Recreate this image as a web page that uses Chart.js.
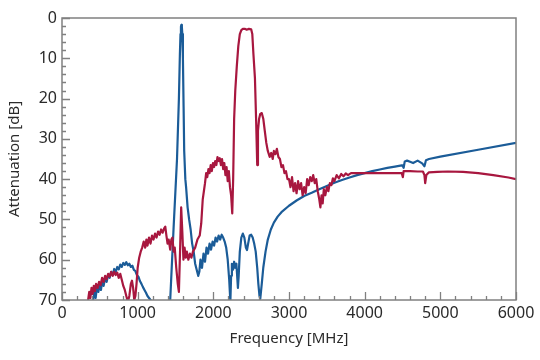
<!DOCTYPE html>
<html>
<head>
<meta charset="utf-8">
<script src="https://cdn.jsdelivr.net/npm/chart.js@4.4.1/dist/chart.umd.min.js"></script>
<style>
html,body{margin:0;padding:0;background:#fff;}
canvas{display:block;}
</style>
</head>
<body>
<canvas id="c" width="540" height="360"></canvas>
<script>
// ---- data (frequency in MHz, attenuation in dB) ----
const xTickValues = [0, 1000, 2000, 3000, 4000, 5000, 6000];
const yTickValues = [0, 10, 20, 30, 40, 50, 60, 70];

const blueFreq = [410,430,445,460,480,500,515,530,550,570,590,610,630,650,670,690,710,730,750,770,790,810,830,850,870,890,910,930,950,970,990,1010,1030,1050,1070,1090,1110,1130,1150,1170,1190,1260,1400,
1430,1475,1520,1545,1558,1566,1572,1578,1584,1590,1598,1607,1615,1630,1640,1660,1680,1700,1720,1740,1760,1780,1800,1815,1830,1850,1870,1890,1910,1930,1950,1970,1990,2010,2030,2050,2070,2090,2110,2130,2150,2170,2190,2210,2225,
2235,2245,2260,2275,2290,2305,2315,2325,2335,2350,2370,2390,2410,2430,2445,2460,2480,2500,2520,2540,2560,2580,2595,2610,2620,
2640,2660,2690,2720,2760,2800,2850,2900,3000,3100,3200,3300,3400,3500,3600,3700,3800,3900,4000,4100,4200,4300,4400,4490,
4500,4515,4530,4560,4600,4640,4700,4760,4790,4810,4850,5000,5500,6000];
const blueDb = [70,68,69.5,67,68,66,67.5,65.5,66.5,64.5,65.5,63.8,64.5,63,63.8,62.3,63,61.8,62.4,61.2,61.8,60.8,61.3,60.6,61.4,61,61.8,61.5,62.5,62.8,63.8,64.2,65.3,66,66.8,67.5,68.2,69,69.5,70,70.5,75,75,
70,52,35,20,9,4,2.2,1.7,2.2,4,10,22,33,40,42,47,50,52.5,56,58,61,62.5,64,63,60,62,58.5,60.5,57,58.5,56,57.5,55.5,56.5,54.5,55.5,54,55,53.8,54.5,55.5,57,60,65,70.5,
64,61,62.5,60.5,62,61,64,67,64,58,54.5,53.5,54.5,57,57.6,56,54,53.8,54.5,56,58,62,66,69,69.7,
66,62,58,55,52.5,50.8,49.3,48.2,46.6,45.3,44.2,43.4,42.5,41.7,40.9,40.2,39.6,39.0,38.5,38.0,37.6,37.2,36.9,36.6,
36.6,37.2,35.6,35.4,35.7,36.0,35.4,36.1,36.8,35.3,35.0,34.4,32.7,31.0];

const redFreq = [345,360,375,390,405,420,435,450,470,490,510,530,550,570,590,610,630,650,670,690,710,730,750,770,790,810,830,850,870,890,910,925,940,955,970,985,1000,1020,1040,1060,1080,1100,1115,1130,1150,1170,1190,1210,1230,1250,1270,1290,1310,1330,1350,1365,1380,1395,1410,1430,1445,1460,1475,1490,1510,1530,1545,1560,1575,1590,1605,1620,1635,1650,1670,1690,1710,1730,1760,1790,1820,1840,1860,1875,1890,1905,1920,1935,1950,1965,1980,1995,2010,2025,2040,2055,2070,2085,2100,2115,2130,2145,2160,2175,2190,2205,2220,2235,2250,
2262,2275,2290,2310,2330,2350,2370,2390,2420,2440,2470,2500,2515,2530,2550,2565,2580,2590,2605,2620,2640,2660,2680,2700,2720,2745,2765,2785,2800,2820,2840,2860,2880,2900,2920,2940,2960,2980,
3000,3020,3040,3060,3080,3100,3120,3140,3160,3180,3200,3220,3240,3260,3280,3300,3320,3340,3360,3380,3400,3415,3430,3445,3460,3480,3500,3520,3540,3560,3580,3600,3630,3660,3690,3720,3750,3780,3820,3900,4000,4200,4400,4490,4505,4515,4600,4700,4770,4790,4800,4815,4850,4960,5100,5300,5500,5700,5900,6000];
const redDb = [70,68,69.5,67,68.5,66.5,67.8,66,67,65.5,66.3,64.5,65.5,64,64.8,63.5,64.2,63,64,63,63.8,63.2,64.5,63.5,65,66.5,67.5,69,70.5,69,66,65.2,67,70,69,66,62,59.5,58,57,55.5,57,55,56.5,54.5,56,54,55,53.5,54.5,53,53.8,52.5,53.3,52.2,51.8,54,56,55,57.5,55,54.5,58,57,62,66,68,58,47,53,60,57,59.5,58,60,58.5,59.5,58,57,55,54,51,45,43,41,38.5,39.5,37.5,38.5,36.5,38,36,37,35.5,36.5,34.5,35.5,34.8,36.5,35,37.5,36,39,37,40.5,38,42,44,48.5,
40,25,18,12,7,4,3,2.7,2.7,2.9,2.7,2.8,4,9,15,25,36.5,28,25,23.8,23.6,25,28,31,33,34.5,33.5,35,33,33.8,32.5,34.5,35,37,36.5,38.5,38,40,
40,42,39.5,43,41,43.5,40.5,42.5,41,44,42,43.5,40,41.5,39.5,40.5,39,41,40,43,45,47,44,46,42.5,44,42,43,41,41.5,39.8,40.5,39,39.8,38.7,39.3,38.6,39,38.5,38.5,38.5,38.5,38.5,38.5,39.5,38,38,38.1,38.1,39,41,39,38.3,38.2,38.1,38.2,38.5,39,39.6,40];

const blueColor = '#1b5c98';
const redColor = '#a8173f';

function pts(xs, ys) { return xs.map((f, i) => ({ x: f, y: ys[i] })); }

const frameTicks = {
  id: 'frameTicks',
  afterDatasetsDraw(chart) {
    const { ctx, chartArea: { left, right, top, bottom }, scales: { x, y } } = chart;
    ctx.save();
    ctx.strokeStyle = '#808080';
    ctx.lineWidth = 1.3;
    ctx.beginPath();
    for (let v = x.min; v <= x.max; v += 200) {
      const px = Math.round(x.getPixelForValue(v)) + 0.5;
      const len = (v % 1000 === 0) ? 8 : 4;
      ctx.moveTo(px, bottom); ctx.lineTo(px, bottom - len);
    }
    for (let v = y.min; v <= y.max; v += 2) {
      const py = Math.round(y.getPixelForValue(v)) + 0.5;
      const len = (v % 10 === 0) ? 8 : 4;
      ctx.moveTo(left, py); ctx.lineTo(left + len, py);
    }
    ctx.stroke();
    ctx.lineWidth = 1.5;
    ctx.strokeRect(left, top, right - left, bottom - top);
    ctx.restore();
  }
};

const tickFont = { family: '"Noto Sans", "DejaVu Sans", sans-serif', size: 16 };
const titleFont = { family: '"Noto Sans", "DejaVu Sans", sans-serif', size: 15 };

new Chart(document.getElementById('c'), {
  type: 'line',
  data: {
    datasets: [
      { label: 'red', data: pts(redFreq, redDb), borderColor: redColor, borderWidth: 2.2, borderJoinStyle: 'round', pointRadius: 0, tension: 0, fill: false, clip: 0 },
      { label: 'blue', data: pts(blueFreq, blueDb), borderColor: blueColor, borderWidth: 2.2, borderJoinStyle: 'round', pointRadius: 0, tension: 0, fill: false, clip: 0 }
    ]
  },
  options: {
    responsive: false,
    animation: false,
    layout: { padding: { top: 18, right: 24, left: 0, bottom: 0 } },
    plugins: { legend: { display: false }, tooltip: { enabled: false } },
    scales: {
      x: {
        type: 'linear', min: 0, max: 6000,
        afterFit(s) { s.height = 60; },
        afterBuildTicks(s) { s.ticks = xTickValues.map(v => ({ value: v })); },
        grid: { display: false, drawTicks: false },
        border: { display: false },
        ticks: { color: '#2a2a2a', font: tickFont, padding: 4, maxRotation: 0, autoSkip: false, callback: v => String(v) },
        title: { display: true, text: 'Frequency [MHz]', color: '#2a2a2a', font: titleFont, padding: 12 }
      },
      y: {
        type: 'linear', min: 0, max: 70, reverse: true,
        afterFit(s) { s.width = 62; },
        afterBuildTicks(s) { s.ticks = yTickValues.map(v => ({ value: v })); },
        grid: { display: false, drawTicks: false },
        border: { display: false },
        ticks: { color: '#2a2a2a', font: tickFont, padding: 5, autoSkip: false, callback: v => String(v) },
        title: { display: true, text: 'Attenuation [dB]', color: '#2a2a2a', font: titleFont, padding: 6 }
      }
    }
  },
  plugins: [frameTicks]
});
</script>
</body>
</html>
